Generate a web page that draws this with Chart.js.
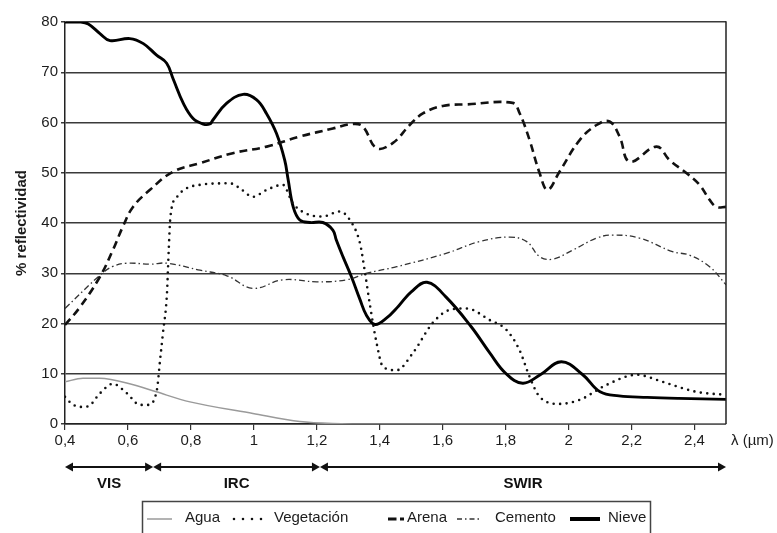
<!DOCTYPE html>
<html>
<head>
<meta charset="utf-8">
<script src="https://cdn.jsdelivr.net/npm/chart.js@4/dist/chart.umd.min.js"></script>
<style>
html,body{margin:0;padding:0;background:#fff;}
#wrap{width:777px;height:533px;overflow:hidden;}
canvas{display:block;}
</style>
</head>
<body>
<div id="wrap"><canvas id="c" width="777" height="533"></canvas></div>
<script>
// ---------- DATA ----------
const seriesNames = ['Agua', 'Vegetación', 'Arena', 'Cemento', 'Nieve'];

const aguaX = [0.40, 0.457, 0.51, 0.617, 0.69, 0.797, 0.997, 1.146, 1.25, 1.40, 2.50];
const aguaY = [8.4, 9.1, 9.1, 7.8, 6.4, 4.4, 2.1, 0.5, 0.1, 0.0, 0.0];

const vegetacionX = [0.40, 0.422, 0.448, 0.473, 0.511, 0.552, 0.597, 0.638, 0.663, 0.692, 0.702, 0.711, 0.724, 0.727, 0.73, 0.735, 0.756, 0.829, 0.924, 0.956, 0.997, 1.041, 1.092, 1.124, 1.178, 1.219, 1.273, 1.305, 1.337, 1.352, 1.368, 1.39, 1.41, 1.454, 1.505, 1.568, 1.622, 1.676, 1.749, 1.803, 1.844, 1.876, 1.908, 1.971, 2.035, 2.121, 2.216, 2.298, 2.406, 2.50];
const vegetacionY = [5.4, 4.0, 3.4, 3.5, 6.1, 8.0, 6.1, 3.8, 3.8, 6.8, 12.7, 18.0, 26.0, 30.6, 35.3, 41.3, 45.2, 47.6, 47.9, 46.9, 45.2, 46.6, 47.6, 43.9, 41.6, 41.3, 42.3, 40.6, 36.0, 30.6, 24.0, 16.1, 11.4, 10.7, 14.1, 20.1, 22.7, 23.0, 20.7, 18.7, 14.7, 9.4, 5.4, 4.0, 4.8, 7.8, 9.8, 8.4, 6.4, 5.8];

const arenaX = [0.40, 0.448, 0.511, 0.552, 0.584, 0.616, 0.67, 0.743, 0.829, 0.933, 1.041, 1.146, 1.251, 1.314, 1.346, 1.39, 1.441, 1.495, 1.537, 1.60, 1.676, 1.822, 1.844, 1.876, 1.908, 1.933, 1.971, 2.035, 2.089, 2.13, 2.162, 2.194, 2.279, 2.321, 2.375, 2.416, 2.448, 2.47, 2.50];
const arenaY = [19.7, 23.3, 29.3, 34.6, 39.3, 43.2, 46.6, 50.2, 51.9, 53.9, 55.2, 57.2, 58.8, 59.7, 59.2, 54.9, 55.9, 59.5, 61.8, 63.3, 63.6, 63.9, 61.9, 56.5, 49.9, 46.6, 50.2, 56.5, 59.5, 60.2, 57.2, 52.2, 55.2, 52.5, 49.9, 47.6, 44.6, 43.2, 43.2];

const cementoX = [0.40, 0.511, 0.55, 0.597, 0.67, 0.724, 0.829, 0.914, 0.997, 1.092, 1.20, 1.295, 1.359, 1.454, 1.613, 1.717, 1.813, 1.867, 1.908, 1.949, 2.013, 2.089, 2.14, 2.225, 2.33, 2.384, 2.448, 2.50];
const cementoY = [23.0, 29.6, 31.3, 32.0, 31.8, 32.0, 30.6, 29.5, 27.0, 28.7, 28.3, 28.7, 30.0, 31.3, 34.0, 36.3, 37.2, 36.3, 33.3, 32.8, 34.6, 37.0, 37.6, 37.0, 34.3, 33.6, 31.3, 27.7];

const nieveX = [0.40, 0.448, 0.474, 0.511, 0.543, 0.606, 0.649, 0.691, 0.723, 0.744, 0.776, 0.807, 0.839, 0.86, 0.87, 0.913, 0.966, 1.009, 1.04, 1.072, 1.098, 1.109, 1.125, 1.146, 1.178, 1.219, 1.251, 1.262, 1.283, 1.31, 1.337, 1.358, 1.385, 1.42, 1.46, 1.50, 1.55, 1.61, 1.69, 1.75, 1.80, 1.854, 1.91, 1.977, 2.045, 2.10, 2.16, 2.25, 2.35, 2.50];
const nieveY = [80.0, 80.0, 79.6, 77.7, 76.3, 76.7, 75.7, 73.4, 71.8, 68.6, 63.8, 60.8, 59.7, 59.7, 60.5, 63.8, 65.6, 64.5, 61.8, 57.8, 52.5, 48.6, 43.2, 40.6, 40.1, 40.1, 38.6, 36.6, 33.3, 29.3, 24.8, 21.6, 19.8, 21.0, 23.5, 26.3, 28.2, 25.3, 19.4, 14.1, 10.1, 8.1, 9.8, 12.4, 9.8, 6.4, 5.6, 5.3, 5.1, 4.9];

const xTickValues = [0.4, 0.6, 0.8, 1.0, 1.2, 1.4, 1.6, 1.8, 2.0, 2.2, 2.4];
const xTickLabels = ['0,4', '0,6', '0,8', '1', '1,2', '1,4', '1,6', '1,8', '2', '2,2', '2,4'];
const yTickValues = [0, 10, 20, 30, 40, 50, 60, 70, 80];

const bandEdges = [0.4, 0.68, 1.21, 2.5];
const bandLabels = ['VIS', 'IRC', 'SWIR'];
const xUnitLabel = 'λ (µm)';
const yAxisTitle = '% reflectividad';

// ---------- STYLE ----------
const FONT = '"Liberation Sans", Arial, Helvetica, sans-serif';
const TXT = '#1c1c1c';

const styles = [
  {borderColor: '#9a9a9a', borderWidth: 1.5, borderDash: [], cap: 'butt', mono: true},
  {borderColor: '#111111', borderWidth: 2.6, borderDash: [0, 6.5], cap: 'round', mono: true},
  {borderColor: '#111111', borderWidth: 2.6, borderDash: [8, 5], cap: 'butt', mono: false},
  {borderColor: '#333333', borderWidth: 1.3, borderDash: [6, 3, 1.5, 3], cap: 'butt', mono: false},
  {borderColor: '#000000', borderWidth: 2.9, borderDash: [], cap: 'round', mono: false}
];
const legendStyles = [
  {dash: [], width: 1.5},
  {dash: [0, 9], width: 2.6},
  {dash: [8.5, 3.5], width: 3},
  {dash: [5, 3, 1.5, 3], width: 1.3},
  {dash: [], width: 4}
];
const legendLayout = [
  {sx: 147, ex: 172, tx: 185},
  {sx: 234, ex: 262, tx: 274},
  {sx: 388, ex: 404, tx: 407},
  {sx: 457, ex: 482, tx: 495},
  {sx: 570, ex: 600, tx: 608}
];

const xs = [aguaX, vegetacionX, arenaX, cementoX, nieveX];
const ys = [aguaY, vegetacionY, arenaY, cementoY, nieveY];

const datasets = seriesNames.map((name, i) => ({
  label: name,
  data: xs[i].map((x, j) => ({x: x, y: ys[i][j]})),
  borderColor: styles[i].borderColor,
  borderWidth: styles[i].borderWidth,
  borderDash: styles[i].borderDash,
  borderCapStyle: styles[i].cap,
  borderJoinStyle: 'round',
  fill: false,
  pointRadius: 0,
  tension: styles[i].mono ? 0 : 0.4,
  cubicInterpolationMode: styles[i].mono ? 'monotone' : 'default'
}));

const extras = {
  id: 'extras',
  afterDatasetsDraw(chart) {
    const ctx = chart.ctx, a = chart.chartArea;
    ctx.save();
    ctx.strokeStyle = '#222';
    ctx.lineWidth = 1.5;
    ctx.beginPath();
    ctx.moveTo(a.right, a.top - 0.75);
    ctx.lineTo(a.right, a.bottom);
    ctx.stroke();
    ctx.restore();
  },
  afterDraw(chart) {
    const ctx = chart.ctx, sx = chart.scales.x;
    ctx.save();
    // unit label
    ctx.fillStyle = TXT;
    ctx.font = '15px ' + FONT;
    ctx.textBaseline = 'middle';
    ctx.textAlign = 'left';
    ctx.fillText(xUnitLabel, chart.chartArea.right + 5, 441);

    // spectral bands
    const yA = 467, ah = 8, aw = 4.5;
    ctx.strokeStyle = '#111';
    ctx.fillStyle = '#111';
    ctx.lineWidth = 2;
    for (let i = 0; i < bandLabels.length; i++) {
      const x0 = sx.getPixelForValue(bandEdges[i]);
      const x1 = sx.getPixelForValue(bandEdges[i + 1]);
      ctx.beginPath();
      ctx.moveTo(x0 + ah - 1, yA);
      ctx.lineTo(x1 - ah + 1, yA);
      ctx.stroke();
      ctx.beginPath();
      ctx.moveTo(x0, yA); ctx.lineTo(x0 + ah, yA - aw); ctx.lineTo(x0 + ah, yA + aw); ctx.closePath();
      ctx.fill();
      ctx.beginPath();
      ctx.moveTo(x1, yA); ctx.lineTo(x1 - ah, yA - aw); ctx.lineTo(x1 - ah, yA + aw); ctx.closePath();
      ctx.fill();
      ctx.font = 'bold 15px ' + FONT;
      ctx.textAlign = 'center';
      ctx.textBaseline = 'middle';
      ctx.fillText(bandLabels[i], (x0 + x1) / 2, 484);
    }

    // legend box
    ctx.strokeStyle = '#444';
    ctx.lineWidth = 1.5;
    ctx.strokeRect(142.5, 501.5, 508, 60);
    const ly = 519;
    chart.data.datasets.forEach((ds, i) => {
      const L = legendLayout[i], S = legendStyles[i];
      ctx.save();
      ctx.strokeStyle = ds.borderColor;
      ctx.lineWidth = S.width;
      ctx.setLineDash(S.dash);
      ctx.lineCap = i === 1 ? 'round' : 'butt';
      ctx.beginPath();
      ctx.moveTo(L.sx, ly);
      ctx.lineTo(L.ex, ly);
      ctx.stroke();
      ctx.restore();
      ctx.fillStyle = TXT;
      ctx.font = '15px ' + FONT;
      ctx.textAlign = 'left';
      ctx.textBaseline = 'middle';
      ctx.fillText(ds.label, L.tx, ly - 1);
    });
    ctx.restore();
  }
};

new Chart(document.getElementById('c'), {
  type: 'line',
  data: {datasets: datasets},
  plugins: [extras],
  options: {
    responsive: false,
    animation: false,
    devicePixelRatio: 1,
    layout: {padding: {left: 0, right: 51, top: 22, bottom: 0}},
    plugins: {legend: {display: false}, tooltip: {enabled: false}, title: {display: false}},
    scales: {
      x: {
        type: 'linear',
        min: 0.4,
        max: 2.5,
        afterBuildTicks: s => { s.ticks = xTickValues.map(v => ({value: v})); },
        afterFit: s => { s.height = 109; },
        ticks: {
          autoSkip: false, maxRotation: 0, minRotation: 0, padding: 2,
          color: TXT, font: {family: FONT, size: 15},
          callback: (v) => {
            const k = xTickValues.findIndex(t => Math.abs(t - v) < 1e-6);
            return k >= 0 ? xTickLabels[k] : '';
          }
        },
        grid: {drawOnChartArea: false, drawTicks: true, tickLength: 6, color: '#333', lineWidth: 1.2},
        border: {display: true, color: '#222', width: 1.5}
      },
      y: {
        min: 0,
        max: 80,
        afterBuildTicks: s => { s.ticks = yTickValues.map(v => ({value: v})); },
        afterFit: s => { s.width = 65; },
        ticks: {padding: 3, color: TXT, font: {family: FONT, size: 15}},
        grid: {color: '#3a3a3a', lineWidth: 1.5, tickLength: 4},
        border: {display: true, color: '#222', width: 1.5},
        title: {display: true, text: yAxisTitle, color: TXT, font: {family: FONT, size: 15, weight: 'bold'}, padding: {top: 13, bottom: 0}}
      }
    }
  }
});
</script>
</body>
</html>
